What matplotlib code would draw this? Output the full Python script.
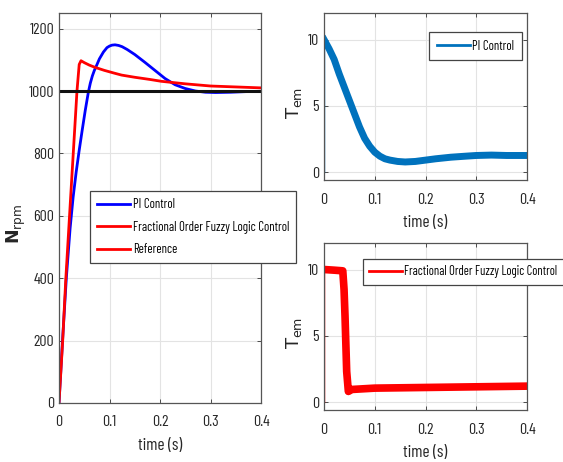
import matplotlib
matplotlib.use('Agg')
import matplotlib.pyplot as plt

plt.rcParams['font.family'] = ['Barlow Condensed', 'DejaVu Sans']
plt.rcParams['mathtext.default'] = 'regular'

# speed response (rpm)
t_pi = [0, 0.007, 0.0145, 0.022, 0.028, 0.034, 0.040, 0.046, 0.052, 0.058, 0.062, 0.066,
        0.070, 0.075, 0.080, 0.088, 0.095, 0.100, 0.105, 0.111, 0.118, 0.125, 0.135,
        0.150, 0.170, 0.190, 0.210, 0.230, 0.250, 0.270, 0.290, 0.310, 0.340, 0.370, 0.400]
n_pi = [0, 200, 400, 560, 660, 740, 810, 875, 938, 995, 1025, 1048,
        1066, 1084, 1103, 1125, 1139, 1144, 1147, 1148, 1146, 1142, 1133,
        1117, 1092, 1066, 1040, 1020, 1008, 1000, 996, 995, 996, 998, 999]
t_fo = [0, 0.0073, 0.0132, 0.0238, 0.0356, 0.040, 0.0436, 0.050, 0.060, 0.071, 0.090,
        0.110, 0.124, 0.150, 0.180, 0.203, 0.250, 0.300, 0.350, 0.400]
n_fo = [0, 200, 390, 680, 1000, 1085, 1097, 1091, 1083, 1076, 1066,
        1057, 1051, 1044, 1037, 1031, 1023, 1016, 1013, 1010]
t_ref = [0, 0.4]
n_ref = [1000, 1000]

# electromagnetic torque
t_tpi = [0, 0, 0.01, 0.02, 0.03, 0.04, 0.05, 0.06, 0.07, 0.08, 0.09, 0.10, 0.11, 0.12,
         0.13, 0.145, 0.16, 0.18, 0.20, 0.22, 0.25, 0.28, 0.30, 0.33, 0.36, 0.40]
T_pi = [0, 10, 9.3, 8.5, 7.4, 6.4, 5.4, 4.4, 3.4, 2.55, 1.95, 1.5, 1.2, 1.0,
        0.9, 0.8, 0.76, 0.8, 0.9, 1.0, 1.12, 1.2, 1.25, 1.28, 1.25, 1.25]
t_tfo = [0, 0, 0.020, 0.037, 0.0395, 0.0414, 0.0447, 0.048, 0.055, 0.100, 0.200, 0.300, 0.400]
T_fo = [0, 10, 9.95, 9.9, 8.5, 6.5, 2.3, 0.8, 0.95, 1.05, 1.1, 1.15, 1.2]

W, H = 563, 462
fig = plt.figure(figsize=(W / 100, H / 100), dpi=100)

def box(l, t, r, b):
    return [l / W, 1 - b / H, (r - l) / W, (b - t) / H]

ax1 = fig.add_axes(box(59, 13, 261, 403))
ax2 = fig.add_axes(box(324, 13, 527, 180))
ax3 = fig.add_axes(box(324, 243, 527, 410))

for ax in (ax1, ax2, ax3):
    ax.grid(True, color='#e3e3e3', linewidth=0.8)
    ax.set_axisbelow(True)
    ax.tick_params(direction='in', top=True, right=True, length=3, width=0.6,
                   colors='#333333', labelsize=11.5, labelcolor='#262626')
    ax.tick_params(axis='x', pad=9)
    for s in ax.spines.values():
        s.set_color('#555555')
        s.set_linewidth(0.9)
    ax.set_xlim(0, 0.4)
    ax.set_xticks([0, 0.1, 0.2, 0.3, 0.4])
    ax.set_xticklabels(['0', '0.1', '0.2', '0.3', '0.4'])
    ax.set_xlabel('time (s)', fontsize=12.5, color='#262626', labelpad=6)

ax1.plot(t_pi, n_pi, color='#0000ff', lw=2, label='PI Control')
ax1.plot(t_fo, n_fo, color='#ff0000', lw=2, label='Fractional Order Fuzzy Logic Control')
ax1.plot(t_ref, n_ref, color='#ff0000', lw=2, label='Reference')
ax1.lines[-1].set_visible(False)
ax1.plot(t_ref, n_ref, color='#111111', lw=2.2)
ax1.set_ylim(0, 1250)
ax1.set_yticks([0, 200, 400, 600, 800, 1000, 1200])
ax1.set_ylabel(r'$\mathbf{N}_{rpm}$', fontsize=12.5, color='#262626',
               family='DejaVu Sans')
ax1.yaxis.set_label_coords(-0.155, 0.46)
leg1 = ax1.legend(loc='upper left', bbox_to_anchor=(90 / W, 1 - 191 / H),
                  bbox_transform=fig.transFigure, fontsize=9.2, fancybox=False,
                  framealpha=1, edgecolor='#444444', handlelength=2.6,
                  handletextpad=0.2, labelspacing=0.75, borderpad=0.55, borderaxespad=0)
leg1.get_frame().set_linewidth(0.9)
for h in leg1.get_lines():
    h.set_visible(True)

ax2.plot(t_tpi[:2], T_pi[:2], color='#0072bd', lw=1)
ax2.plot(t_tpi[1:], T_pi[1:], color='#0072bd', lw=5, solid_joinstyle='round',
         label='PI Control')
ax3.plot(t_tfo[:2], T_fo[:2], color='#ff0000', lw=1)
ax3.plot(t_tfo[1:], T_fo[1:], color='#ff0000', lw=5.5, solid_joinstyle='round',
         label='Fractional Order Fuzzy Logic Control')

for ax in (ax2, ax3):
    ax.set_ylim(-0.6, 12)
    ax.set_yticks([0, 5, 10])
    ax.set_ylabel(r'$T_{em}$', fontsize=13, color='#262626', family='DejaVu Sans')
    ax.yaxis.set_label_coords(-0.1, 0.46)

leg2 = ax2.legend(loc='upper left', bbox_to_anchor=(429 / W, 1 - 32 / H),
                  bbox_transform=fig.transFigure, fontsize=9.2, fancybox=False,
                  framealpha=1, edgecolor='#444444', handlelength=2.6,
                  handletextpad=0.2, borderpad=0.6, borderaxespad=0)
leg3 = ax3.legend(loc='upper left', bbox_to_anchor=(363 / W, 1 - 259 / H),
                  bbox_transform=fig.transFigure, fontsize=9, fancybox=False,
                  framealpha=1, edgecolor='#444444', handlelength=2.6,
                  handletextpad=0.2, borderpad=0.5, borderaxespad=0)
for lg in (leg2, leg3):
    lg.get_frame().set_linewidth(0.9)
    for h in lg.get_lines():
        h.set_linewidth(2)

fig.savefig('out.png', dpi=100)
plt.close(fig)
